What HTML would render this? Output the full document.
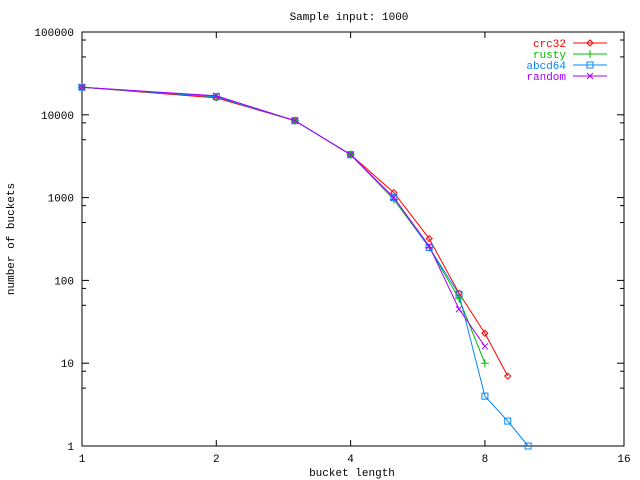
<!DOCTYPE html><html><head><style>body{margin:0;background:#fff}svg{display:block}text{font-family:"Liberation Mono",monospace;font-size:11px}</style></head><body>
<svg id="s" width="640" height="480" xmlns="http://www.w3.org/2000/svg"></svg>
<script>
const s=document.getElementById('s');let h='';
const X=k=>82+134.3*Math.log2(k), Y=v=>446-82.8*Math.log10(v);
h+='<rect x="82" y="32" width="542" height="414" fill="none" stroke="#000"/>';
[[1,82],[2,X(2)],[4,X(4)],[8,X(8)],[16,624]].forEach(([l,x])=>{h+=`<line x1="${x}" y1="446" x2="${x}" y2="440" stroke="#000"/><line x1="${x}" y1="32" x2="${x}" y2="38" stroke="#000"/><text x="${x}" y="462" text-anchor="middle">${l}</text>`});
for(let d=0;d<=5;d++){const y=446-82.8*d;h+=`<line x1="82" y1="${y}" x2="89" y2="${y}" stroke="#000"/><line x1="624" y1="${y}" x2="617" y2="${y}" stroke="#000"/><text x="74" y="${y+4}" text-anchor="end">${Math.pow(10,d)}</text>`;
if(d<5)[5,8].forEach(m=>{const yy=446-82.8*(d+Math.log10(m));h+=`<line x1="82" y1="${yy}" x2="86" y2="${yy}" stroke="#000"/><line x1="624" y1="${yy}" x2="620" y2="${yy}" stroke="#000"/>`})}
h+='<text x="349" y="20" text-anchor="middle">Sample input: 1000</text><text x="352" y="476" text-anchor="middle">bucket length</text><text transform="translate(14,239) rotate(-90)" text-anchor="middle">number of buckets</text>';
const S=[['crc32','#f00',[[1,21500],[2,16000],[3,8500],[4,3300],[5,1150],[6,320],[7,70],[8,23],[9,7]],'d'],
['rusty','#0b0',[[1,21500],[2,16500],[3,8500],[4,3300],[5,950],[6,250],[7,60],[8,10]],'p'],
['abcd64','#08f',[[1,21500],[2,16500],[3,8500],[4,3300],[5,1000],[6,250],[7,68],[8,4],[9,2],[10,1]],'s'],
['random','#a0f',[[1,21500],[2,17000],[3,8500],[4,3300],[5,1000],[6,260],[7,45],[8,16]],'x']];
const mk=(t,x,y,c)=>t=='d'?`<path d="M${x-3},${y}L${x},${y-3}L${x+3},${y}L${x},${y+3}Z" fill="none" stroke="${c}"/>`:t=='p'?`<path d="M${x-4},${y}H${x+4}M${x},${y-4}V${y+4}" stroke="${c}"/>`:t=='s'?`<rect x="${x-3}" y="${y-3}" width="6" height="6" fill="none" stroke="${c}"/>`:`<path d="M${x-3},${y-3}L${x+3},${y+3}M${x+3},${y-3}L${x-3},${y+3}" stroke="${c}"/>`;
S.forEach(([n,c,d,t],i)=>{const p=d.map(([k,v])=>[X(k),Y(v)]);h+=`<polyline points="${p.map(q=>q.join(',')).join(' ')}" fill="none" stroke="${c}"/>`;p.forEach(q=>h+=mk(t,q[0],q[1],c));
const ly=43+11*i;h+=`<text x="566" y="${ly+4}" text-anchor="end" fill="${c}">${n}</text><line x1="573" y1="${ly}" x2="607" y2="${ly}" stroke="${c}"/>`+mk(t,590,ly,c)});
s.innerHTML=h;
</script></body></html>
